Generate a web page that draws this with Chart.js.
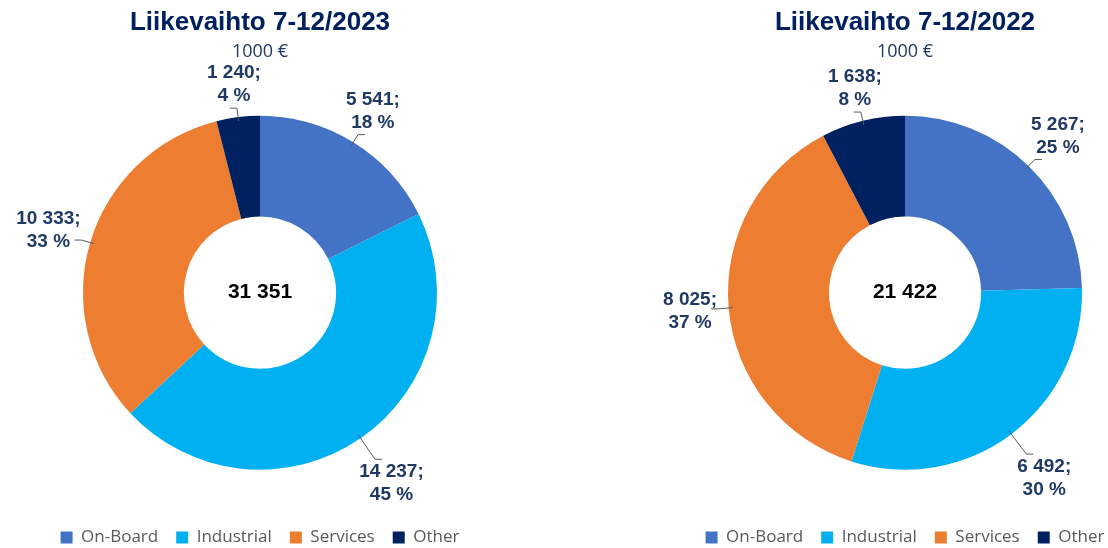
<!DOCTYPE html>
<html lang="fi">
<head>
<meta charset="utf-8">
<title>Liikevaihto 7-12</title>
<script src="https://cdn.jsdelivr.net/npm/chart.js@4.4.1/dist/chart.umd.min.js"></script>
<style>
  html, body { margin: 0; padding: 0; background: #fff; overflow: hidden; }
  #wrap { position: relative; width: 1108px; height: 548px; overflow: hidden; }
  canvas { position: absolute; top: 0; }
  #chart2023 { left: 0; }
  #chart2022 { left: 645px; }
</style>
</head>
<body>
<div id="wrap">
  <canvas id="chart2023" width="520" height="548"></canvas>
  <canvas id="chart2022" width="520" height="548"></canvas>
</div>
<script>
// Segmentit ja liikevaihto (1000 €)
const segments = ['On-Board', 'Industrial', 'Services', 'Other'];
const values2023 = [5541, 14237, 10333, 1240];
const values2022 = [5267, 6492, 8025, 1638];
const title2023 = 'Liikevaihto 7-12/2023';
const title2022 = 'Liikevaihto 7-12/2022';
const unitText = '1000 €';
const segmentColors = ['#4472C4', '#00B0F0', '#ED7D31', '#002060'];

function fmt(n) {
    return String(n).replace(/\B(?=(\d{3})+(?!\d))/g, '\u00a0');
}

// labels "arvo; %" outside the ring + total in the hole
const sliceLabels = {
    id: 'sliceLabels',
    afterDatasetsDraw(chart) {
        const ctx = chart.ctx;
        const meta = chart.getDatasetMeta(0);
        const data = chart.data.datasets[0].data;
        const total = data.reduce((a, b) => a + b, 0);
        ctx.save();
        ctx.font = 'bold 19px "Liberation Sans", Arial, sans-serif';
        ctx.textAlign = 'center';
        ctx.textBaseline = 'middle';
        meta.data.forEach((arc, i) => {
            const p = arc.getProps(['x', 'y', 'startAngle', 'endAngle', 'outerRadius'], true);
            const mid = (p.startAngle + p.endAngle) / 2;
            const ux = Math.cos(mid), uy = Math.sin(mid);
            const l1 = fmt(data[i]) + ';';
            const l2 = Math.round(data[i] / total * 100) + ' %';
            const hw = Math.max(ctx.measureText(l1).width, ctx.measureText(l2).width) / 2;
            const hh = 23;
            const edge = Math.min(hw / Math.max(Math.abs(ux), 1e-6), hh / Math.max(Math.abs(uy), 1e-6));
            const gap = 10 + 20 * Math.max(0, uy);
            const r = p.outerRadius;
            const lx = p.x + ux * (r + gap + edge);
            const ly = p.y + uy * (r + gap + edge);

            // leader line
            const ex = p.x + ux * (r + gap - 1), ey = p.y + uy * (r + gap - 1);
            ctx.strokeStyle = '#595959';
            ctx.lineWidth = 1;
            ctx.beginPath();
            ctx.moveTo(p.x + ux * (r - 4), p.y + uy * (r - 4));
            ctx.lineTo(ex, ey);
            ctx.lineTo(ex + (ux < 0 ? -7 : 7), ey);
            ctx.stroke();

            ctx.fillStyle = '#1F3864';
            ctx.fillText(l1, lx, ly - 11.5);
            ctx.fillText(l2, lx, ly + 11.5);
        });
        const c = meta.data[0];
        ctx.font = 'bold 21px "Liberation Sans", Arial, sans-serif';
        ctx.fillStyle = '#000000';
        ctx.fillText(fmt(total), c.x, c.y);
        ctx.restore();
    }
};

function makeChart(canvasId, titleText, values) {
    const ctx = document.getElementById(canvasId).getContext('2d');
    return new Chart(ctx, {
        type: 'doughnut',
        data: {
            labels: segments,
            datasets: [{
                data: values,
                backgroundColor: segmentColors,
                borderWidth: 0
            }]
        },
        options: {
            responsive: false,
            animation: false,
            events: [],
            radius: 177,
            cutout: '43%',
            layout: { padding: { bottom: -8 } },
            plugins: {
                title: {
                    display: true,
                    text: titleText,
                    color: '#002060',
                    font: { family: '"Liberation Sans", Arial, sans-serif', size: 26, weight: 'bold' },
                    padding: { top: 7, bottom: 0 }
                },
                subtitle: {
                    display: true,
                    text: unitText,
                    color: '#1F3864',
                    font: { family: '"Open Sans", sans-serif', size: 18 },
                    padding: { top: 3, bottom: 11.6 }
                },
                legend: {
                    position: 'bottom',
                    labels: {
                        color: '#595959',
                        font: { family: '"Open Sans", sans-serif', size: 17 },
                        boxWidth: 12,
                        boxHeight: 12,
                        padding: 18
                    }
                },
                tooltip: { enabled: false }
            }
        },
        plugins: [sliceLabels]
    });
}

makeChart('chart2023', title2023, values2023);
makeChart('chart2022', title2022, values2022);
</script>
</body>
</html>
